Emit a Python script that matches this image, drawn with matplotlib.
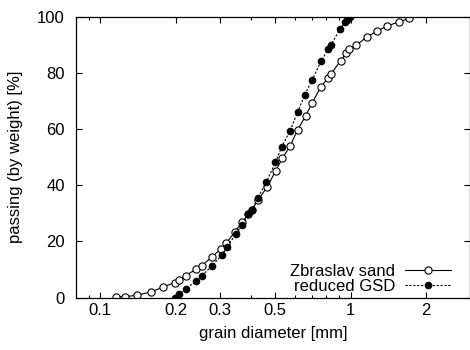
import numpy as np
import matplotlib
matplotlib.use('Agg')
from matplotlib import pyplot as plt
from matplotlib.ticker import FixedLocator, NullFormatter

plt.rcParams['font.family'] = ['Liberation Sans', 'DejaVu Sans']
plt.rcParams['font.size'] = 12

# Zbraslav sand (open circles)
d_sand = [0.116, 0.126, 0.140, 0.160, 0.178, 0.198, 0.207, 0.220, 0.241, 0.254,
          0.280, 0.303, 0.319, 0.345, 0.368, 0.391, 0.403, 0.427, 0.463, 0.503,
          0.534, 0.574, 0.615, 0.662, 0.703, 0.760, 0.814, 0.835, 0.912, 0.960,
          0.985, 1.053, 1.158, 1.276, 1.399, 1.567, 1.712]
p_sand = [0.3, 0.3, 0.8, 2.0, 3.7, 5.3, 6.1, 7.8, 10.1, 11.3,
          14.5, 17.3, 19.4, 23.4, 26.8, 29.6, 31.2, 34.7, 39.2, 45.2,
          49.6, 54.0, 59.8, 64.7, 69.4, 74.9, 78.3, 79.6, 84.3, 87.0,
          88.4, 89.8, 92.7, 94.9, 96.7, 98.2, 99.4]

# reduced GSD (filled circles)
d_red = [0.198, 0.206, 0.220, 0.241, 0.254, 0.280, 0.306, 0.321, 0.348, 0.368,
         0.391, 0.403, 0.427, 0.461, 0.501, 0.531, 0.573, 0.614, 0.656, 0.703,
         0.763, 0.814, 0.833, 0.907, 0.953, 0.967, 0.991]
p_red = [0.0, 1.1, 3.1, 5.8, 7.7, 11.3, 15.2, 18.1, 22.5, 25.9,
         29.7, 31.0, 35.6, 41.2, 48.1, 53.7, 59.3, 66.0, 72.1, 77.6,
         84.2, 88.4, 89.8, 95.5, 98.0, 98.9, 100.0]

x_major = [0.1, 0.2, 0.3, 0.5, 1, 2]
x_labels = ['0.1', '0.2', '0.3', '0.5', '1', '2']
x_minor = [0.08, 0.09, 0.4, 0.6, 0.7, 0.8, 0.9, 3]

fig = plt.figure(figsize=(4.7, 3.5), dpi=100)
ax = fig.add_axes([76 / 470, 1 - 297.5 / 350, 394 / 470, 280.8 / 350])

ax.plot(d_sand, p_sand, color='black', linewidth=0.8, marker='o', markersize=5.2,
        markerfacecolor='white', markeredgecolor='black', markeredgewidth=0.8,
        label='Zbraslav sand')
ax.plot(d_red, p_red, color='black', linewidth=0.8, dashes=[2, 1.5], marker='o',
        markersize=4.5, markerfacecolor='black', markeredgecolor='black',
        label='reduced GSD')

ax.set_xscale('log')
ax.set_xlim(0.08, 3)
ax.set_ylim(0, 100)
ax.xaxis.set_major_locator(FixedLocator(x_major))
ax.set_xticklabels(x_labels)
ax.xaxis.set_minor_locator(FixedLocator(x_minor))
ax.xaxis.set_minor_formatter(NullFormatter())
ax.set_yticks([0, 20, 40, 60, 80, 100])

ax.tick_params(which='both', direction='in', top=True, right=True, width=0.8)
ax.tick_params(which='major', length=4)
ax.tick_params(which='minor', length=2)
ax.tick_params(axis='x', pad=4)
ax.tick_params(axis='y', pad=8)
for s in ax.spines.values():
    s.set_linewidth(0.9)

ax.set_xlabel('grain diameter [mm]', labelpad=6)
ax.set_ylabel('passing (by weight) [%]', labelpad=10)

ax.legend(loc='lower right', bbox_to_anchor=(0.952, 0.012), frameon=False,
          markerfirst=False, handlelength=2.75, handletextpad=0.6,
          labelspacing=0.02, borderpad=0, borderaxespad=0)

fig.savefig('out.png', dpi=100)
